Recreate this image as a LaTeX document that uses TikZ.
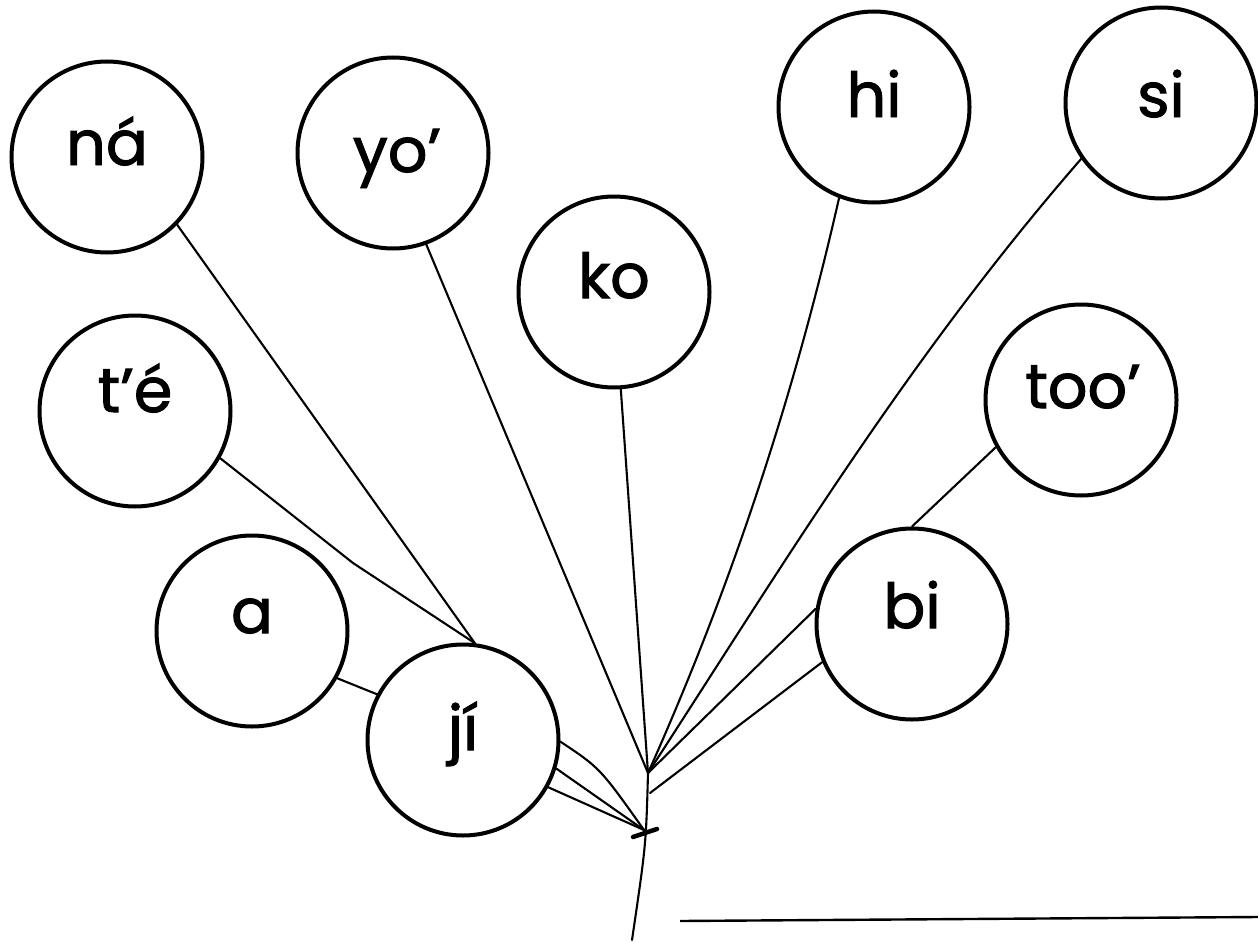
\documentclass[tikz,border=0pt]{standalone}
\usepackage{fontspec}
\setmainfont{Poppins}
\newfontfamily\lblfont{Poppins}[FakeBold=1.6]
\begin{document}
\begin{tikzpicture}[x=1pt,y=-1pt,
  syl/.style={circle,draw,line width=4pt,minimum size=191pt,inner sep=0pt},
  lbl/.style={anchor=base,inner sep=0pt,font=\lblfont\fontsize{62}{70}\selectfont},
  conn/.style={line width=2.1pt,line cap=round,line join=round}]
\useasboundingbox (0,0) rectangle (1258,942);
\fill[white] (0,0) rectangle (1258,942);

% circles
\node[syl] (na)  at (107,157) {};
\node[syl] (yo)  at (393,153) {};
\node[syl] (ko)  at (614,292) {};
\node[syl] (hi)  at (874,107) {};
\node[syl] (si)  at (1161,103) {};
\node[syl] (te)  at (135,411) {};
\node[syl] (too) at (1081,400) {};
\node[syl] (a)   at (252,631) {};
\node[syl] (ji)  at (463,740) {};
\node[syl] (bi)  at (912,624) {};

% labels
\node[lbl] (tna)  at (107,165) {ná};
\node[lbl] (tyo)  at (397,172) {yo’};
\node[lbl] (tko)  at (614,298) {ko};
\node[lbl] (thi)  at (874,117) {hi};
\node[lbl] (tsi)  at (1161,117) {si};
\node[lbl] (tte)  at (135,412) {t’é};
\node[lbl] (ttoo) at (1083,408) {too’};
\node[lbl] (ta)   at (252,633) {a};
\node[lbl] (tji)  at (463,750) {jí};
\node[lbl] (tbi)  at (912,628) {bi};

% junctions
\coordinate (J1) at (648,773);
\coordinate (J2) at (650,793);
\coordinate (J3) at (644,830);
\coordinate (B)  at (632,940);
\coordinate (K)  at (353,563);
\coordinate (M1) at (633,837);
\coordinate (M2) at (657,829);
\coordinate (H1) at (680,921);
\coordinate (H2) at (1258,917);

% stem
\draw[conn] (ko.-86) -- (J1) .. controls (646,845) .. (B);
% upper fan
\draw[conn] (yo.-70) -- (J1);
\draw[conn] (hi.-111) .. controls (795,392) and (733,583) .. (J1);
\draw[conn] (si.-145) .. controls (906,360) and (778,573) .. (J1);
\draw[conn] (bi.171) -- (J1);
\draw[conn] (bi.-157) -- (J2);
\draw[conn] (too.-151) -- (bi.90);
% left side
\draw[conn] (na.-44) -- (ji.83);
\draw[conn] (te.-29) -- (K) -- (ji.83);
\draw[conn] (a.-29) -- (ji.152);
% ji to lower junction
\draw[conn] (ji.-1) .. controls (600,768) .. (J3);
\draw[conn] (ji.-17) -- (J3);
\draw[conn] (ji.-29) -- (J3);
% cross mark
\draw[line width=4.5pt,line cap=round] (M1) -- (M2);
% bottom line
\draw[line width=2.4pt] (H1) -- (H2);
\end{tikzpicture}
\end{document}
